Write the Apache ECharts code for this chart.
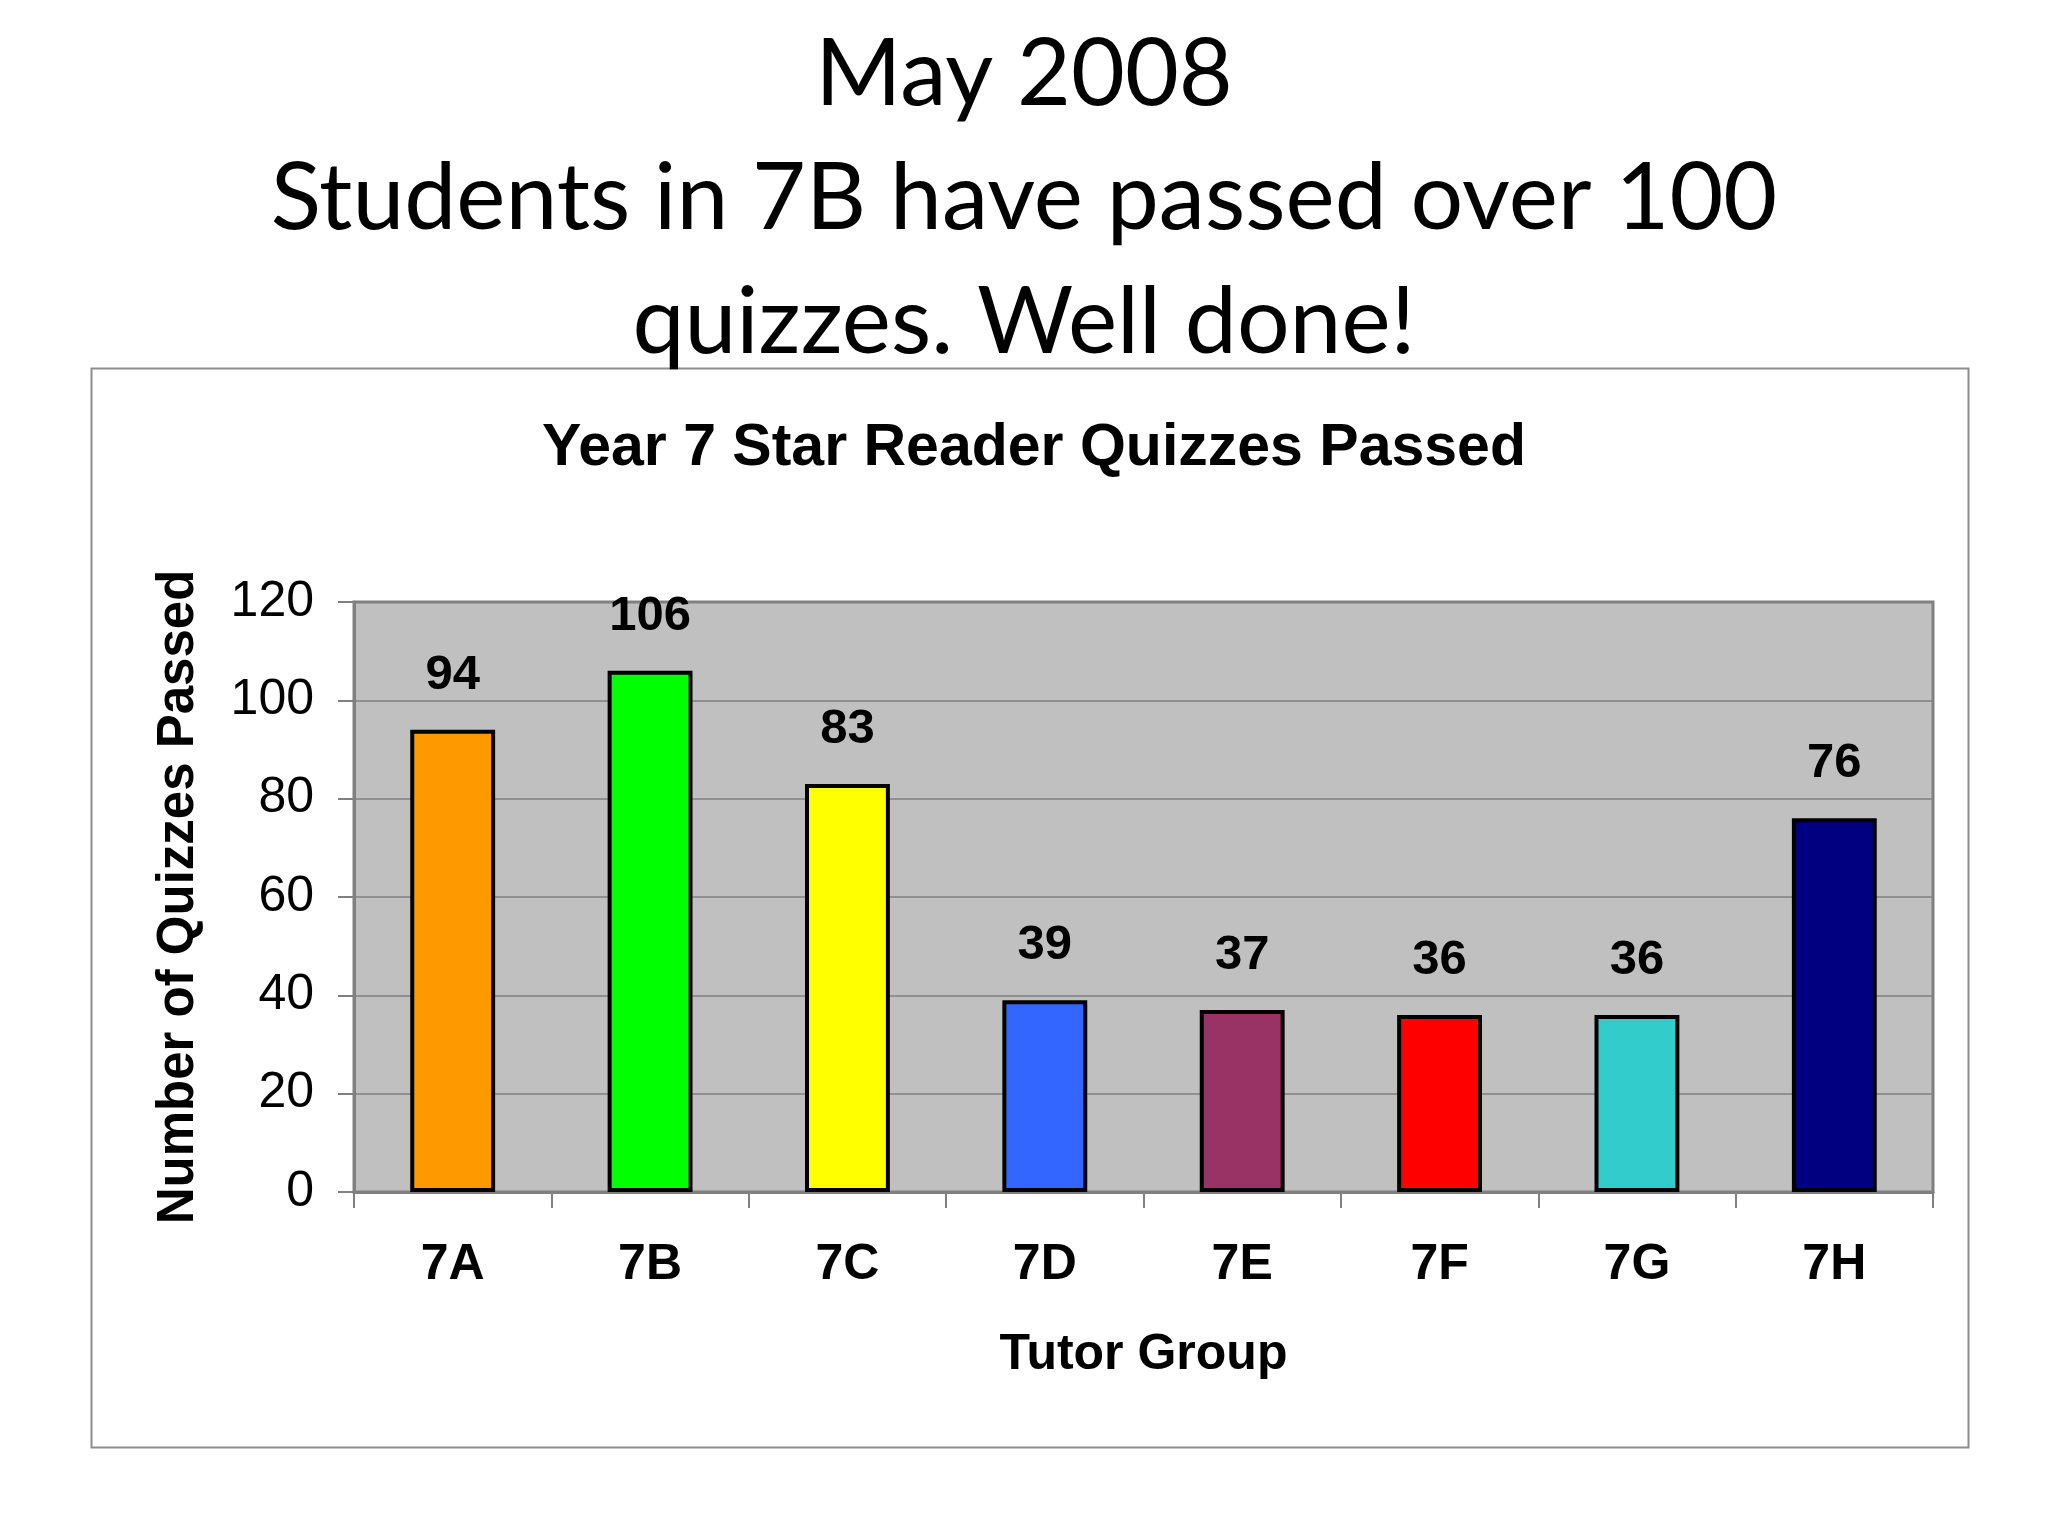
<!DOCTYPE html>
<html>
<head>
<meta charset="utf-8">
<script src="https://cdn.jsdelivr.net/npm/echarts@6/dist/echarts.min.js"></script>
<style>html,body{margin:0;padding:0;background:#fff}#c{width:2048px;height:1536px}</style>
</head>
<body>
<div id="c"></div>
<script>
const categories = ['7A','7B','7C','7D','7E','7F','7G','7H'];
const quizzesPassed = [94,106,83,39,37,36,36,76];
const barColors = ['#FF9900','#00FF00','#FFFF00','#3366FF','#993366','#FF0000','#33CCCC','#000080'];
const yTicks = [0,20,40,60,80,100,120];

const chart = echarts.init(document.getElementById('c'));
chart.setOption({
  backgroundColor: '#ffffff',
  animation: false,
  graphic: [{
    type: 'rect', z: -1,
    shape: {x: 91.5, y: 368.5, width: 1877, height: 1079},
    style: {fill: '#ffffff', stroke: '#8c8c8c', lineWidth: 2}
  }],
  title: [{
    text: 'May 2008\nStudents in 7B have passed over 100\nquizzes. Well done!',
    left: 'center', top: 8,
    textStyle: {fontFamily: 'Lato', fontWeight: 'normal', fontSize: 93, lineHeight: 124, color: '#000'}
  }, {
    text: 'Year 7 Star Reader Quizzes Passed',
    left: 1029, top: 414, textAlign: 'center',
    textStyle: {fontFamily: 'Liberation Sans', fontWeight: 'bold', fontSize: 59, color: '#000'}
  }],
  grid: {left: 354, right: 115, top: 602, bottom: 344, show: true, backgroundColor: '#C0C0C0', borderColor: '#808080', borderWidth: 3},
  xAxis: {
    type: 'category', data: categories,
    axisLine: {show: true, lineStyle: {color: '#808080', width: 3}},
    axisTick: {show: true, length: 16, lineStyle: {color: '#808080', width: 2}},
    axisLabel: {fontFamily: 'Liberation Sans', fontWeight: 'bold', fontSize: 50, color: '#000', margin: 48},
    name: 'Tutor Group', nameLocation: 'middle', nameGap: 138,
    nameTextStyle: {fontFamily: 'Liberation Sans', fontWeight: 'bold', fontSize: 50, color: '#000'}
  },
  yAxis: {
    type: 'value', min: yTicks[0], max: yTicks[yTicks.length-1], interval: 20,
    axisLine: {show: true, lineStyle: {color: '#808080', width: 3}},
    axisTick: {show: true, length: 16, lineStyle: {color: '#808080', width: 2}},
    axisLabel: {fontFamily: 'Liberation Sans', fontSize: 50, color: '#000', margin: 40},
    splitLine: {show: true, lineStyle: {color: '#808080', width: 1.5}},
    name: 'Number of Quizzes Passed', nameLocation: 'middle', nameGap: 150, nameRotate: 90,
    nameTextStyle: {fontFamily: 'Liberation Sans', fontWeight: 'bold', fontSize: 51, color: '#000'}
  },
  series: [{
    type: 'bar',
    data: quizzesPassed.map((v, i) => ({value: v, itemStyle: {color: barColors[i]}})),
    barWidth: '43%',
    itemStyle: {borderColor: '#000', borderWidth: 4},
    label: {show: true, position: 'top', distance: 30, fontFamily: 'Liberation Sans', fontWeight: 'bold', fontSize: 49, color: '#000'}
  }]
});
</script>
</body>
</html>
